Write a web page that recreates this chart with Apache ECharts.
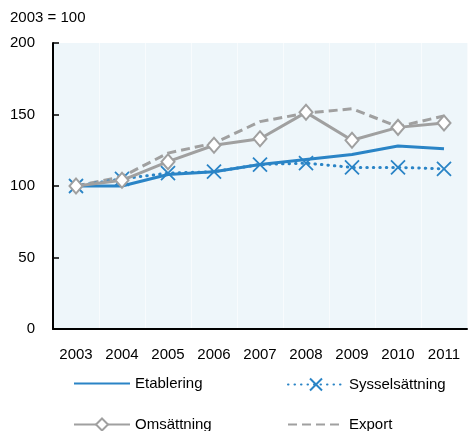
<!DOCTYPE html>
<html>
<head>
<meta charset="utf-8">
<script src="https://cdn.jsdelivr.net/npm/echarts@6/dist/echarts.min.js"></script>
<style>
  html, body { margin: 0; padding: 0; background: #fff; }
  #chart { width: 470px; height: 431px; }
</style>
</head>
<body>
<div id="chart"></div>
<script>
var years = ['2003', '2004', '2005', '2006', '2007', '2008', '2009', '2010', '2011'];
var etablering = [100, 100, 108, 110, 115, 118.5, 122, 128, 126];
var sysselsattning = [100, 105, 109, 110, 115, 116, 113, 113, 112];
var omsattning = [100, 104, 117, 128.5, 133, 151.5, 132, 141, 144];
var exportData = [100, 106.5, 123, 130, 145, 151, 154, 141.5, 149];

var blue = '#2a84c6';
var grey = '#a0a0a0';
var font = 'Liberation Sans, Arial, sans-serif';
var cross = 'path://M0,0L10,10M10,0L0,10';

function legendAt(name, left, top, noSymbol) {
  var l = {
    data: [name], left: left, top: top,
    itemWidth: 56, itemHeight: 15, padding: 0,
    textStyle: {fontFamily: font, fontSize: 15, color: '#000'}
  };
  if (noSymbol) l.itemStyle = {opacity: 0};
  return l;
}

var chart = echarts.init(document.getElementById('chart'));
chart.setOption({
  animation: false,
  graphic: [{
    type: 'text', left: 10, top: 10,
    style: {text: '2003 = 100', font: '15px ' + font, fill: '#000'}
  }],
  grid: {
    left: 53, right: 3, top: 43, bottom: 102,
    show: true, backgroundColor: '#eef6fa', borderWidth: 0
  },
  legend: [
    legendAt('Etablering', 73, 376, true),
    legendAt('Sysselsättning', 287, 376),
    legendAt('Omsättning', 73, 417),
    legendAt('Export', 287, 417, true)
  ],
  xAxis: {
    type: 'category', data: years, boundaryGap: true,
    axisLine: {lineStyle: {color: '#000', width: 2}},
    axisTick: {inside: true, length: 5, lineStyle: {color: '#000', width: 1.5}},
    axisLabel: {fontFamily: font, fontSize: 15, color: '#000', margin: 18},
    splitLine: {show: true, lineStyle: {color: '#f8fbfd', width: 1}}
  },
  yAxis: {
    type: 'value', min: 0, max: 200, interval: 50,
    axisLine: {show: true, lineStyle: {color: '#000', width: 2}},
    axisTick: {show: true, inside: true, length: 6, lineStyle: {color: '#000', width: 1.5}},
    axisLabel: {fontFamily: font, fontSize: 15, color: '#000', margin: 18},
    splitLine: {show: false}
  },
  series: [
    {
      name: 'Etablering', type: 'line', data: etablering,
      symbol: 'none', z: 3,
      lineStyle: {color: blue, width: 3},
      itemStyle: {color: blue}
    },
    {
      name: 'Sysselsättning', type: 'line', data: sysselsattning,
      symbol: cross, symbolSize: 14, z: 4,
      lineStyle: {color: blue, width: 3, type: [0.5, 6], cap: 'round'},
      itemStyle: {color: 'none', borderColor: blue, borderWidth: 1.8}
    },
    {
      name: 'Omsättning', type: 'line', data: omsattning,
      symbol: 'diamond', symbolSize: [13, 15], z: 5,
      lineStyle: {color: grey, width: 3},
      itemStyle: {color: '#fff', borderColor: grey, borderWidth: 2}
    },
    {
      name: 'Export', type: 'line', data: exportData,
      symbol: 'none', z: 2,
      lineStyle: {color: grey, width: 3, type: [9, 5]},
      itemStyle: {color: grey}
    }
  ]
});
</script>
</body>
</html>
